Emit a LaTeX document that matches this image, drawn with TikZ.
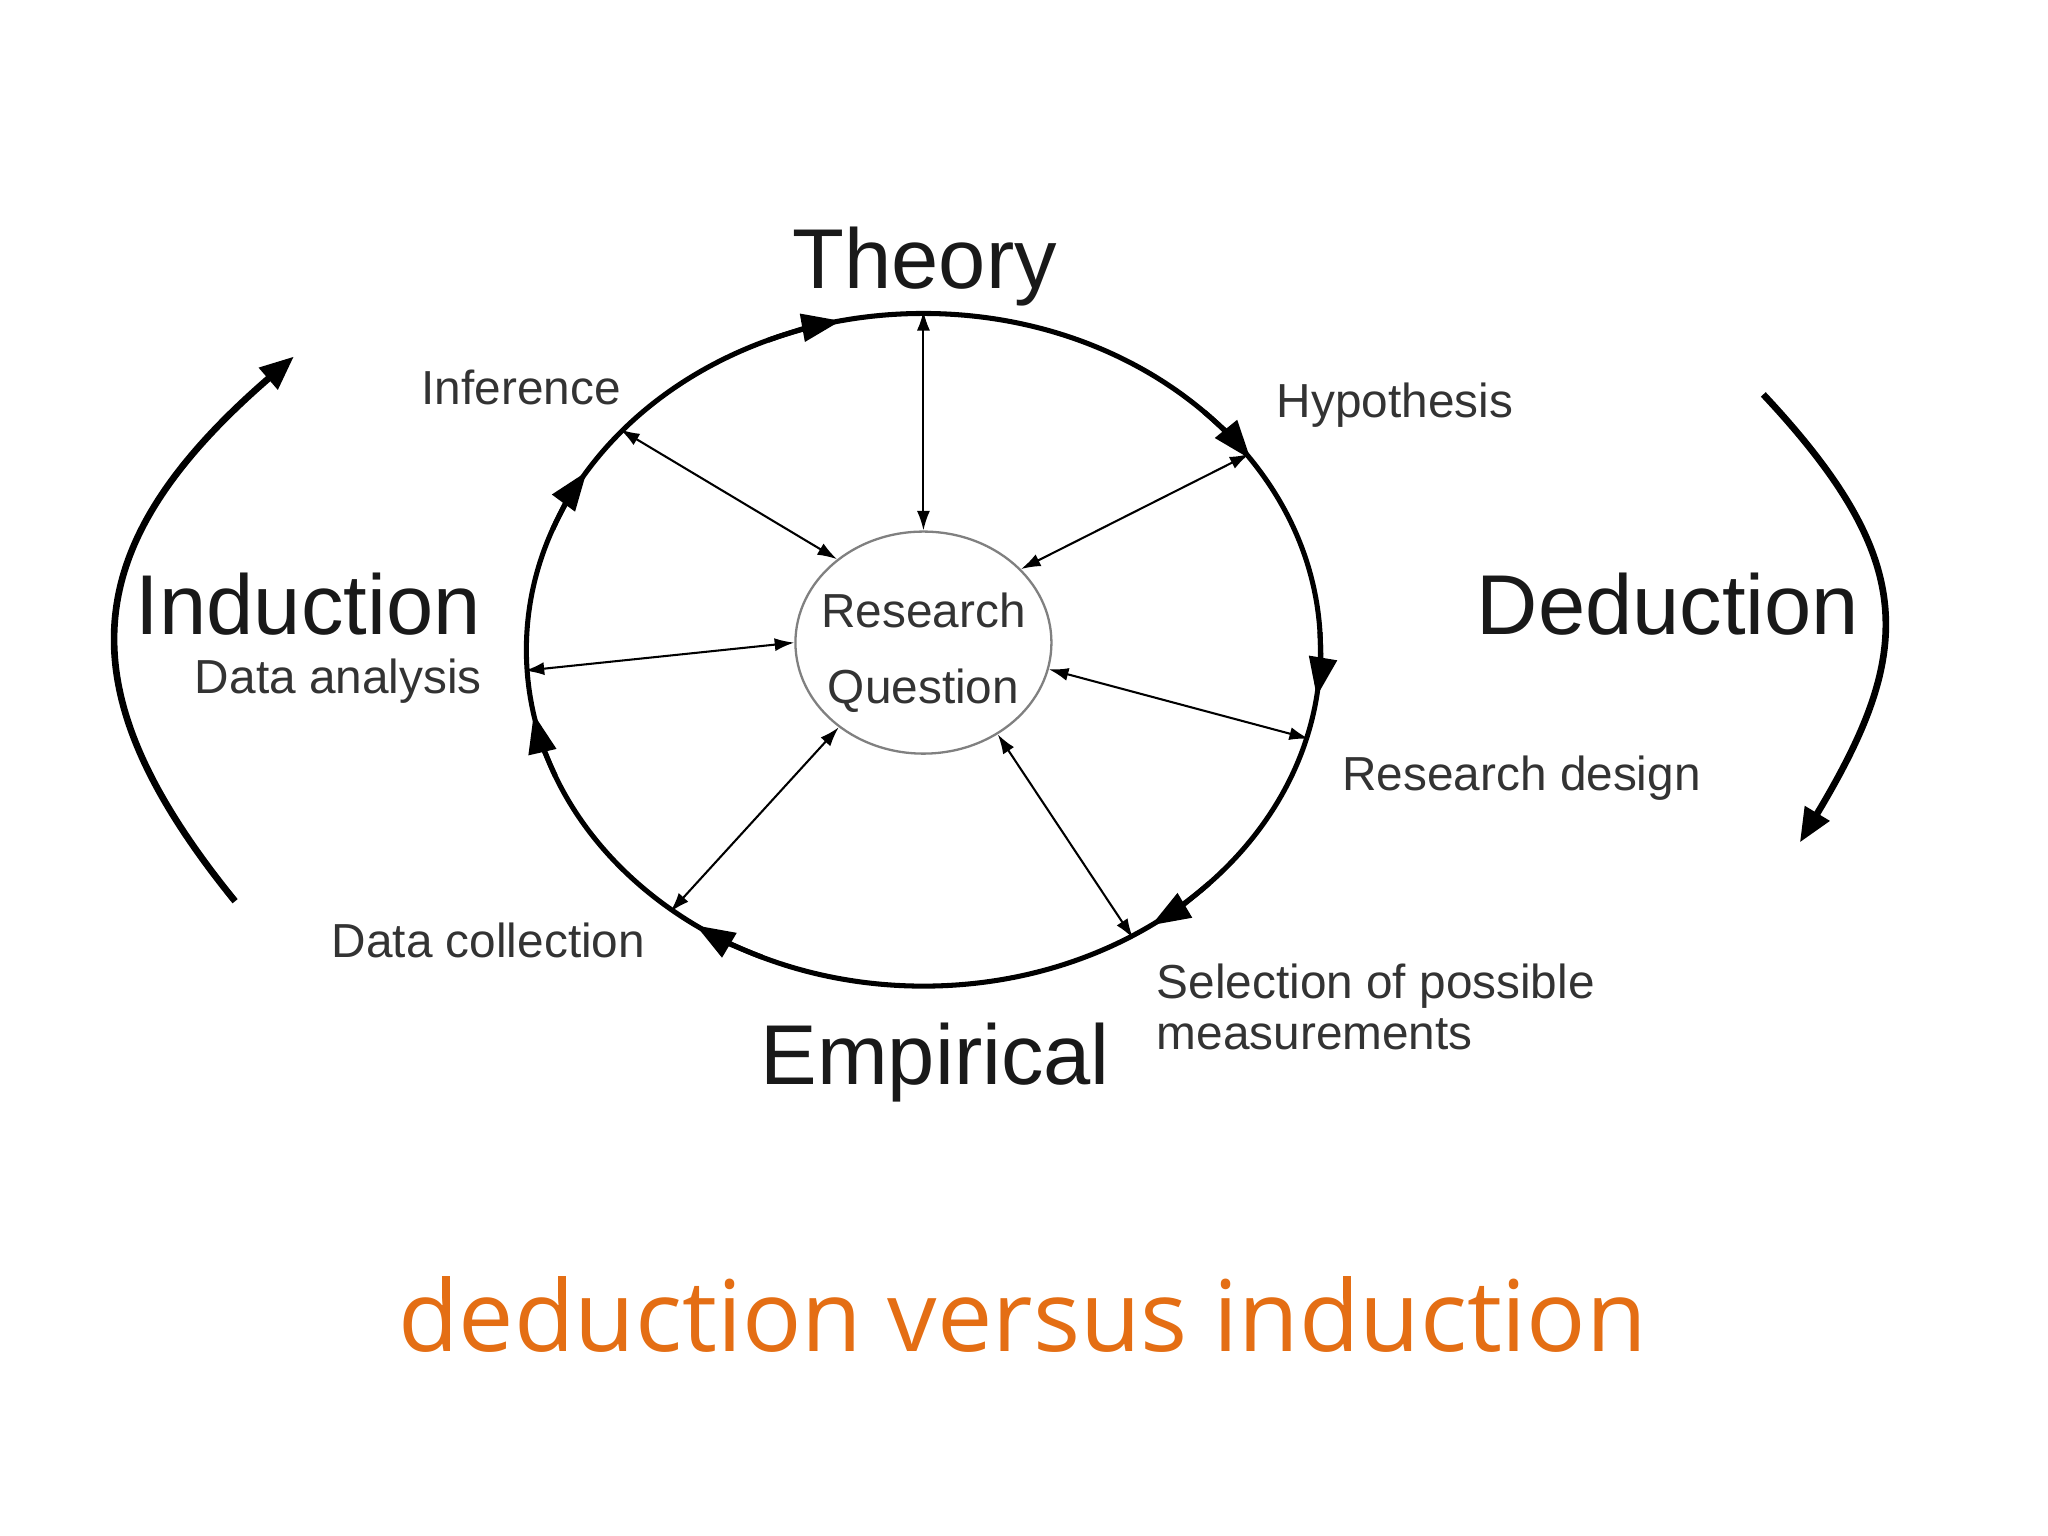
\documentclass[tikz,border=0pt]{standalone}
\usepackage{fontspec}
\setmainfont{Liberation Sans}
\newfontfamily\titlefont{Open Sans}
\usepackage{tikz}
\usetikzlibrary{shapes, arrows, calc, positioning}
\usetikzlibrary{arrows.meta}
\definecolor{slideorange}{RGB}{228,110,20}

\begin{document}
\begin{tikzpicture}[
  every node/.style={align=center, inner sep=0pt},
  big word/.style={font=\fontsize{18.5}{22}\selectfont, text=black!90, anchor=base},
  stage label/.style={font=\fontsize{10.4}{12}\selectfont, text=black!80, anchor=base},
  link/.style={{Latex[length=1.5mm,width=1mm]}-{Latex[length=1.5mm,width=1mm]}, line width=0.45pt},
  flow tip/.style={-{Triangle[length=3mm,width=2.1mm]}, line width=1.1pt},
  sweep/.style={-{Triangle[length=2.6mm,width=2.1mm]}, line width=1.45pt}
]
\useasboundingbox[fill=white] (0,0) rectangle (15.68,-11.76);

% research cycle
\node[ellipse, draw, line width=1.1pt, minimum width=6.08cm, minimum height=5.15cm] (rim) at (7.07,-4.975) {};
\node[ellipse, draw=black!50, line width=0.5pt, inner xsep=-1.5mm, minimum width=1.96cm, minimum height=1.70cm,
      font=\fontsize{10.4}{16.5}\selectfont, text=black!80] (rq) at (7.07,-4.92) {\rule{0pt}{12pt}Research\\Question};

% clockwise heads on the cycle
\draw[flow tip] (rim.center) ++(113:3.04 and 2.575) arc[start angle=113, end angle=102, x radius=3.04cm, y radius=2.575cm];
\draw[flow tip] (rim.center) ++(45:3.04 and 2.575) arc[start angle=45, end angle=34.5, x radius=3.04cm, y radius=2.575cm];
\draw[flow tip] (rim.center) ++(3:3.04 and 2.575) arc[start angle=3, end angle=-8, x radius=3.04cm, y radius=2.575cm];
\draw[flow tip] (rim.center) ++(-44:3.04 and 2.575) arc[start angle=-44, end angle=-55, x radius=3.04cm, y radius=2.575cm];
\draw[flow tip] (rim.center) ++(246:3.04 and 2.575) arc[start angle=246, end angle=235, x radius=3.04cm, y radius=2.575cm];
\draw[flow tip] (rim.center) ++(202:3.04 and 2.575) arc[start angle=202, end angle=191, x radius=3.04cm, y radius=2.575cm];
\draw[flow tip] (rim.center) ++(159:3.04 and 2.575) arc[start angle=159, end angle=148, x radius=3.04cm, y radius=2.575cm];

% links to the research question
\draw[link] (rq.90) -- (rim.90);
\draw[link] (rq.136) -- (rim.144);
\draw[link] (rq.37) -- (rim.31);
\draw[link] (rq.180) -- (rim.183);
\draw[link] (rq.-12) -- (rim.-13);
\draw[link] (rq.225) -- (rim.226);
\draw[link] (rq.309) -- (rim.306);

% labels
\node[big word] (theory) at (7.08,-2.21) {Theory};
\node[big word] (empirical) at (7.16,-8.30) {Empirical};
\node[big word] (induction) at (2.36,-4.86) {Induction};
\node[big word] (deduction) at (12.77,-4.86) {Deduction};
\node[stage label] (inference) at (3.99,-3.10) {Inference};
\node[stage label] (hypothesis) at (10.68,-3.20) {Hypothesis};
\node[stage label] (analysis) at (2.59,-5.31) {Data analysis};
\node[stage label] (design) at (11.65,-6.05) {Research design};
\node[stage label] (collection) at (3.74,-7.33) {Data collection};
\node[stage label, anchor=west, align=left, font=\fontsize{10.4}{11.2}\selectfont] (selection) at (8.85,-7.71) {Selection of possible\\measurements};

% induction and deduction sweeps
\coordinate (indlow) at (1.80,-6.90);
\coordinate (indhigh) at (2.25,-2.73);
\coordinate (dedhigh) at (13.50,-3.02);
\coordinate (dedlow) at (13.78,-6.45);
\draw[sweep] (indlow) .. controls (0.50,-5.30) and (0.55,-4.20) .. (indhigh);
\draw[sweep] (dedhigh) .. controls (14.70,-4.30) and (14.65,-5.00) .. (dedlow);

% slide title
\node[font=\titlefont\fontsize{21.5}{26}\selectfont, text=slideorange, anchor=base] (title) at (7.83,-10.35) {deduction versus induction};

\end{tikzpicture}
\end{document}
